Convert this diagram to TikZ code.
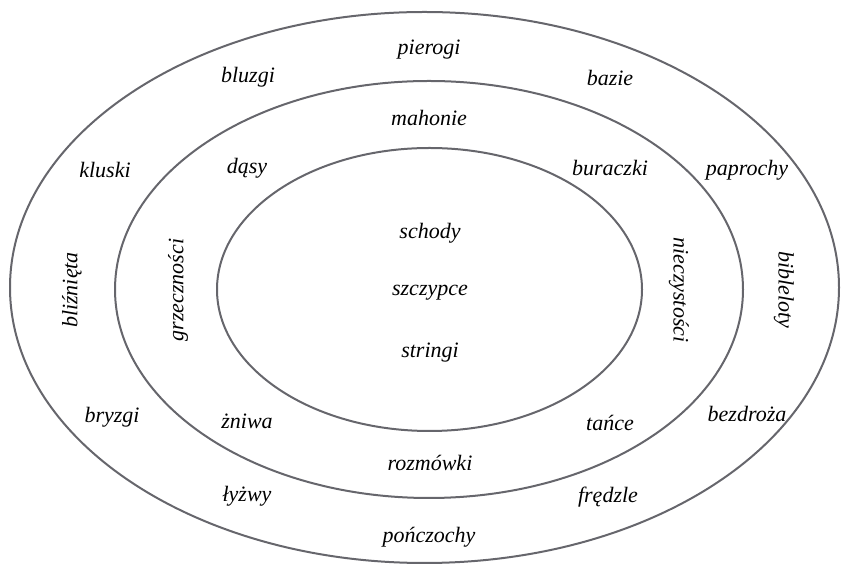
\documentclass[tikz,border=0pt]{standalone}
\usepackage{fontspec}
\setmainfont{Liberation Serif}
\usepackage{xcolor}
\usepackage{tikz}
\usetikzlibrary{positioning}

\definecolor{ringgray}{RGB}{102,102,108}

\begin{document}
\begin{tikzpicture}[x=0.5pt, y=-0.5pt, node distance=30pt]
	\tikzstyle{ring}=[draw=ringgray, line width=1pt]
	\tikzstyle{word}=[inner sep=1pt, font=\itshape\fontsize{11}{13}\selectfont]
	\useasboundingbox (0,0) rectangle (841,565);

	% rings
	\draw[ring] (424.5,287.5) ellipse [x radius=414.5, y radius=275.5];
	\draw[ring] (429,289.5) ellipse [x radius=314, y radius=208.5];
	\draw[ring] (429.5,289.5) ellipse [x radius=212.5, y radius=141.5];

	% inner ring
	\node[word] (szczypce) at (430,293) {szczypce};
	\node[word] (schody) [above of=szczypce] {schody};
	\node[word] (stringi) [below of=szczypce] {stringi};

	% middle ring
	\node[word] (mahonie) at (429,118) {mahonie};
	\node[word] (dasy) at (247,168) {dąsy};
	\node[word] (buraczki) at (610,168) {buraczki};
	\node[word, rotate=90] (grzecznosci) at (178,290) {grzeczności};
	\node[word, rotate=-90] (nieczystosci) at (679,290) {nieczystości};
	\node[word] (zniwa) at (247,421) {żniwa};
	\node[word] (tance) at (610,423) {tańce};
	\node[word] (rozmowki) at (430,463) {rozmówki};

	% outer ring
	\node[word] (pierogi) at (429,50) {pierogi};
	\node[word] (bluzgi) at (248,77) {bluzgi};
	\node[word] (bazie) at (610,78) {bazie};
	\node[word] (kluski) at (105,170) {kluski};
	\node[word] (paprochy) at (747,170) {paprochy};
	\node[word, rotate=90] (bliznieta) at (72,290) {bliźnięta};
	\node[word, rotate=-90] (bibleloty) at (784,290) {bibleloty};
	\node[word] (bryzgi) at (112,417) {bryzgi};
	\node[word] (bezdroza) at (747,414) {bezdroża};
	\node[word] (lyzwy) at (247,496) {łyżwy};
	\node[word] (fredzle) at (608,497) {frędzle};
	\node[word] (ponczochy) at (429,537) {pończochy};
\end{tikzpicture}
\end{document}
